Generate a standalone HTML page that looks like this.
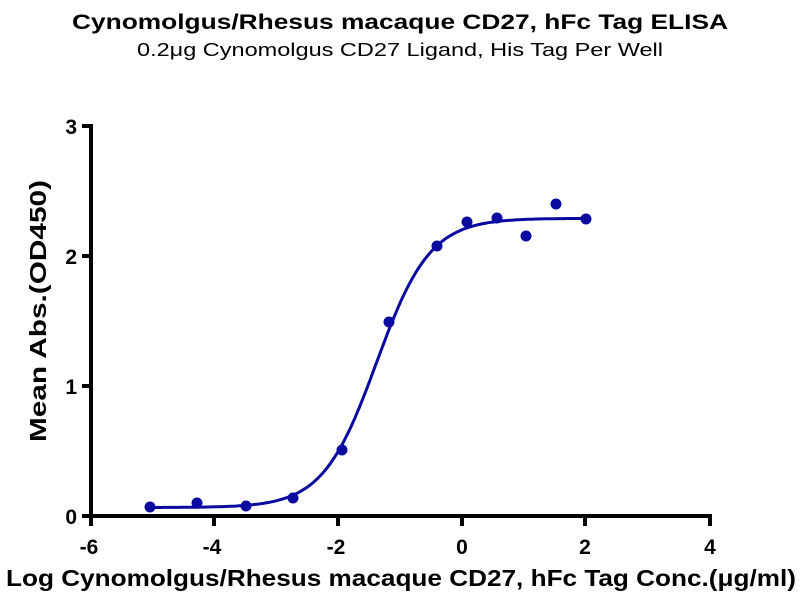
<!DOCTYPE html>
<html><head><meta charset="utf-8"><style>
body{margin:0;background:#fff;}
svg{display:block;font-family:"Liberation Sans",Arial,sans-serif;}
</style></head><body>
<svg id="s" width="800" height="600" viewBox="0 0 800 600">
<text x="400" y="29" text-anchor="middle" font-size="21" font-weight="bold" textLength="656" lengthAdjust="spacingAndGlyphs">Cynomolgus/Rhesus macaque CD27, hFc Tag ELISA</text>
<text x="400" y="56" text-anchor="middle" font-size="18" textLength="526" lengthAdjust="spacingAndGlyphs">0.2μg Cynomolgus CD27 Ligand, His Tag Per Well</text>
<g stroke="#000" stroke-width="4" fill="none">
<line x1="91" y1="124" x2="91" y2="518"/>
<line x1="89" y1="516" x2="712" y2="516"/>
<line x1="82" y1="126" x2="91" y2="126"/>
<line x1="82" y1="256" x2="91" y2="256"/>
<line x1="82" y1="386" x2="91" y2="386"/>
<line x1="82" y1="516" x2="91" y2="516"/>
<line x1="91" y1="516" x2="91" y2="526"/>
<line x1="214" y1="516" x2="214" y2="526"/>
<line x1="338" y1="516" x2="338" y2="526"/>
<line x1="462" y1="516" x2="462" y2="526"/>
<line x1="585" y1="516" x2="585" y2="526"/>
<line x1="710" y1="516" x2="710" y2="526"/>
</g>
<g font-size="21" font-weight="bold" text-anchor="end">
<text x="77" y="134">3</text><text x="77" y="264">2</text><text x="77" y="394">1</text><text x="77" y="524">0</text>
</g>
<g font-size="21" font-weight="bold" text-anchor="middle">
<text x="89" y="554">-6</text><text x="212" y="554">-4</text><text x="336" y="554">-2</text><text x="462" y="554">0</text><text x="585" y="554">2</text><text x="710" y="554">4</text>
</g>
<text x="401" y="586" text-anchor="middle" font-size="23" font-weight="bold" textLength="790" lengthAdjust="spacingAndGlyphs">Log Cynomolgus/Rhesus macaque CD27, hFc Tag Conc.(μg/ml)</text>
<text transform="translate(46,311) rotate(-90)" text-anchor="middle" font-size="23" font-weight="bold" textLength="262" lengthAdjust="spacingAndGlyphs">Mean Abs.(OD450)</text>
<path id="c" fill="none" stroke="#0a0aa0" stroke-width="3"/>
<g fill="#0a0aa0">
<circle cx="150" cy="507" r="5.5"/><circle cx="197" cy="503" r="5.5"/><circle cx="246" cy="506" r="5.5"/><circle cx="293" cy="498" r="5.5"/><circle cx="342" cy="450" r="5.5"/><circle cx="389" cy="322" r="5.5"/><circle cx="437" cy="246" r="5.5"/><circle cx="467" cy="222" r="5.5"/><circle cx="497" cy="218" r="5.5"/><circle cx="526" cy="236" r="5.5"/><circle cx="556" cy="204" r="5.5"/><circle cx="586" cy="219" r="5.5"/>
</g>
</svg>
<script>
var d="";for(var i=0;i<=200;i++){var x=-5.05+7.07*i/200;var y=0.065+2.225/(1+Math.pow(10,(-1.38-x)*1.0));var px=461.7+61.8*x,py=516-130*y;d+=(i?"L":"M")+px.toFixed(1)+" "+py.toFixed(1);}
document.getElementById("c").setAttribute("d",d);
</script>
</body></html>
